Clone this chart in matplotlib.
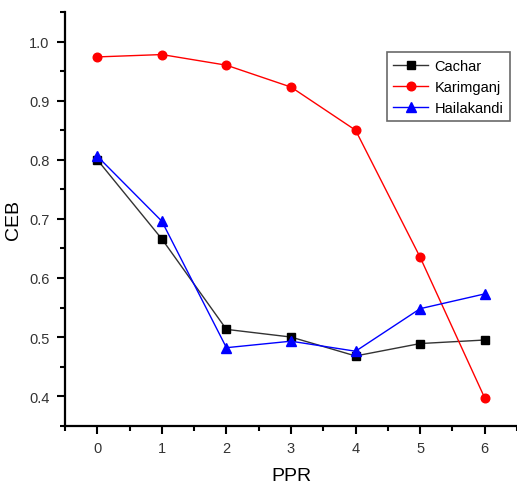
import matplotlib
matplotlib.use("Agg")
import matplotlib.pyplot as plt
from matplotlib.ticker import MultipleLocator

plt.rcParams['font.family'] = ['Liberation Sans', 'DejaVu Sans']

ppr = [0, 1, 2, 3, 4, 5, 6]
cachar = [0.800, 0.666, 0.513, 0.500, 0.468, 0.489, 0.495]
karimganj = [0.974, 0.978, 0.960, 0.923, 0.850, 0.635, 0.397]
hailakandi = [0.806, 0.696, 0.482, 0.493, 0.476, 0.548, 0.573]

fig = plt.figure(figsize=(5.17, 4.89), dpi=100)
ax = fig.add_axes([0.1257, 0.1274, 0.8743, 0.846])

ax.plot(ppr, cachar, color='#333333', lw=1, marker='s', ms=5.8, mfc='black', mec='black', label='Cachar')
ax.plot(ppr, karimganj, color='red', lw=1, marker='o', ms=6.2, mfc='red', mec='red', label='Karimganj')
ax.plot(ppr, hailakandi, color='blue', lw=1, marker='^', ms=7, mfc='blue', mec='blue', label='Hailakandi')

ax.set_xlim(-0.5, 6.5)
ax.set_ylim(0.35, 1.05)
ax.xaxis.set_major_locator(MultipleLocator(1))
ax.xaxis.set_minor_locator(MultipleLocator(0.5))
ax.yaxis.set_major_locator(MultipleLocator(0.1))
ax.yaxis.set_minor_locator(MultipleLocator(0.05))
ax.yaxis.set_major_formatter(matplotlib.ticker.FormatStrFormatter('%.1f'))

for s in ['top', 'right']:
    ax.spines[s].set_visible(False)
for s in ['left', 'bottom']:
    ax.spines[s].set_linewidth(1.6)

ax.tick_params(which='major', direction='out', length=6, width=1.5, labelsize=10.5, labelcolor='#333333', pad=5)
ax.tick_params(which='minor', direction='out', length=3.5, width=1.5)

ax.set_xlabel('PPR', fontsize=14, labelpad=9)
ax.set_ylabel('CEB', fontsize=14, labelpad=5)

leg = ax.legend(loc='upper right', bbox_to_anchor=(0.984, 0.903), fontsize=10.5, frameon=True, fancybox=False,
                edgecolor='#444444', handlelength=2.4, handletextpad=0.4, borderpad=0.45, labelspacing=0.48,
                borderaxespad=0)
leg.get_frame().set_linewidth(1.2)

fig.savefig('out.png', dpi=100)
